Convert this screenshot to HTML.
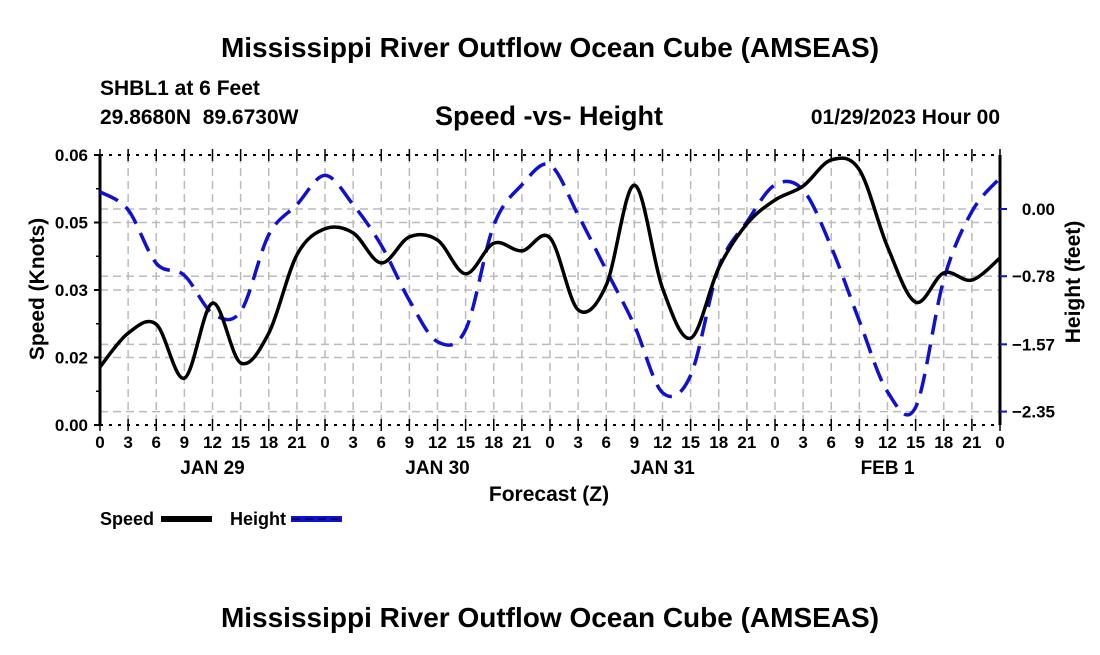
<!DOCTYPE html>
<html><head><meta charset="utf-8"><style>
body{margin:0;background:#fff;}
svg text{font-family:"Liberation Sans",Arial,sans-serif;font-weight:bold;fill:#000;white-space:pre;}
</style></head><body>
<svg width="1100" height="650" viewBox="0 0 1100 650">
<text x="550" y="57" font-size="28" text-anchor="middle">Mississippi River Outflow Ocean Cube (AMSEAS)</text>
<text x="100" y="95" font-size="21">SHBL1 at 6 Feet</text>
<text x="100" y="124" font-size="21">29.8680N&#160;&#160;89.6730W</text>
<text x="549" y="125" font-size="27" text-anchor="middle">Speed -vs- Height</text>
<text x="1000" y="124" font-size="21" text-anchor="end">01/29/2023 Hour 00</text>
<g id="grid"></g>
<g id="axes"></g>
<g id="series"></g>
<text x="44" y="289" font-size="21" text-anchor="middle" transform="rotate(-90 44 289)">Speed (Knots)</text>
<text x="1080" y="282" font-size="21" text-anchor="middle" transform="rotate(-90 1080 282)">Height (feet)</text>
<text x="549" y="501" font-size="21" text-anchor="middle">Forecast (Z)</text>
<g>
<text x="100" y="525" font-size="18">Speed</text>
<rect x="161" y="516" width="51" height="6" fill="#000"/>
<text x="230" y="525" font-size="18">Height</text>
<rect x="291" y="516" width="51" height="6" fill="#1010d0"/>
<line x1="292" y1="519" x2="341" y2="519" stroke="#000" stroke-width="1" stroke-dasharray="8 5"/>
</g>
<text x="550" y="627" font-size="28" text-anchor="middle">Mississippi River Outflow Ocean Cube (AMSEAS)</text>
</svg>
<script>
const hours=[0,3,6,9,12,15,18,21,24,27,30,33,36,39,42,45,48,51,54,57,60,63,66,69,72,75,78,81,84,87,90,93,96];
const speed=[.0129,.0204,.0224,.0104,.0271,.0138,.0204,.0378,.0436,.0427,.0360,.0418,.0411,.0336,.0404,.0387,.0416,.0256,.0311,.0533,.0304,.0193,.0349,.0447,.0500,.0531,.0589,.0567,.0396,.0273,.0338,.0322,.0371];
const height=[0.20,-0.01,-0.63,-0.77,-1.21,-1.19,-0.30,0.05,0.39,0.05,-0.42,-1.06,-1.54,-1.40,-0.19,0.28,0.51,-0.07,-0.71,-1.35,-2.13,-1.93,-0.68,-0.15,0.28,0.22,-0.44,-1.30,-2.12,-2.30,-0.82,-0.03,0.36];
const leftTicks=[0,0.015,0.03,0.045,0.06];
const leftLabels=["0.00","0.02","0.03","0.05","0.06"];
const rightTicks=[0,-0.78,-1.57,-2.35];
const rightLabels=["0.00","\u22120.78","\u22121.57","\u22122.35"];
const xLabels=["0","3","6","9","12","15","18","21","0","3","6","9","12","15","18","21","0","3","6","9","12","15","18","21","0","3","6","9","12","15","18","21","0"];
const days=["JAN 29","JAN 30","JAN 31","FEB 1"];
const X0=100,X1=1000,YT=155,YB=425;
const xs=h=>X0+h/96*(X1-X0);
const ys=v=>YB-v/0.06*(YB-YT);
const yh=v=>209-v*(67.5/0.783);
const NS="http://www.w3.org/2000/svg";
function mk(p,t,a){const e=document.createElementNS(NS,t);for(const k in a)e.setAttribute(k,a[k]);p.appendChild(e);return e;}
const grid=document.getElementById('grid'),axes=document.getElementById('axes'),ser=document.getElementById('series');
for(let i=1;i<32;i++){const x=xs(i*3);
const l=mk(grid,'line',{x1:x,y1:YT,x2:x,y2:YB,stroke:'#bbb','stroke-width':1.5,'stroke-dasharray':'8 5'});

}
leftTicks.slice(1,4).forEach(v=>{const l=mk(grid,'line',{x1:X0,y1:ys(v),x2:X1,y2:ys(v),stroke:'#bbb','stroke-width':1.5,'stroke-dasharray':'8 5'});

});
rightTicks.forEach(v=>{const l=mk(grid,'line',{x1:X0,y1:yh(v),x2:X1,y2:yh(v),stroke:'#bbb','stroke-width':1.5,'stroke-dasharray':'8 5'});

});
[[X0,YT,X0,YB],[X1,YT,X1,YB]].forEach(c=>{const l=mk(axes,'line',{x1:c[0],y1:c[1],x2:c[2],y2:c[3],stroke:'#000','stroke-width':3});

});
[[YT],[YB]].forEach(c=>{const l=mk(axes,'line',{x1:X0,y1:c[0],x2:X1,y2:c[0],stroke:'#000','stroke-width':2,'stroke-dasharray':'3 6'});

});
for(let i=0;i<=32;i++){const x=xs(i*3);
[YT,YB].forEach(y=>{const t=mk(axes,'line',{x1:x,y1:y-6,x2:x,y2:y+6,stroke:'#000','stroke-width':1.5});

});
const tx=mk(axes,'text',{x:x,y:448,'font-size':17,'text-anchor':'middle'});tx.textContent=xLabels[i];

}
days.forEach((d,i)=>{const tx=mk(axes,'text',{x:xs(12+24*i),y:474,'font-size':19,'text-anchor':'middle'});tx.textContent=d;

});
leftTicks.forEach((v,i)=>{const y=ys(v);
const t=mk(axes,'line',{x1:X0-6,y1:y,x2:X0,y2:y,stroke:'#000','stroke-width':2});


const tx=mk(axes,'text',{x:X0-12,y:y+6,'font-size':17,'text-anchor':'end'});tx.textContent=leftLabels[i];


if(i<4){const m=mk(axes,'line',{x1:X0-4,y1:ys(v+0.0075),x2:X0,y2:ys(v+0.0075),stroke:'#000','stroke-width':1.5});

}});
rightTicks.forEach((v,i)=>{const y=yh(v);
const t=mk(axes,'line',{x1:X1,y1:y,x2:X1+7,y2:y,stroke:'#1010d0','stroke-width':2});


const tx=mk(axes,'text',{x:1055,y:y+6,'font-size':17,'text-anchor':'end'});tx.textContent=rightLabels[i];

});
function spline(pts){let d='M'+pts[0][0]+','+pts[0][1];
for(let i=0;i<pts.length-1;i++){const p0=pts[Math.max(0,i-1)],p1=pts[i],p2=pts[i+1],p3=pts[Math.min(pts.length-1,i+2)];
const c1=[p1[0]+(p2[0]-p0[0])/6,p1[1]+(p2[1]-p0[1])/6],c2=[p2[0]-(p3[0]-p1[0])/6,p2[1]-(p3[1]-p1[1])/6];
d+=' C'+c1[0]+','+c1[1]+' '+c2[0]+','+c2[1]+' '+p2[0]+','+p2[1];}return d;}
const hp=mk(ser,'path',{d:spline(hours.map((h,i)=>[xs(h),yh(height[i])])),fill:'none',stroke:'#1010d0','stroke-width':3.5,'stroke-dasharray':'20 10'});


const sp=mk(ser,'path',{d:spline(hours.map((h,i)=>[xs(h),ys(speed[i])])),fill:'none',stroke:'#000','stroke-width':3.5});


</script>
</body></html>
